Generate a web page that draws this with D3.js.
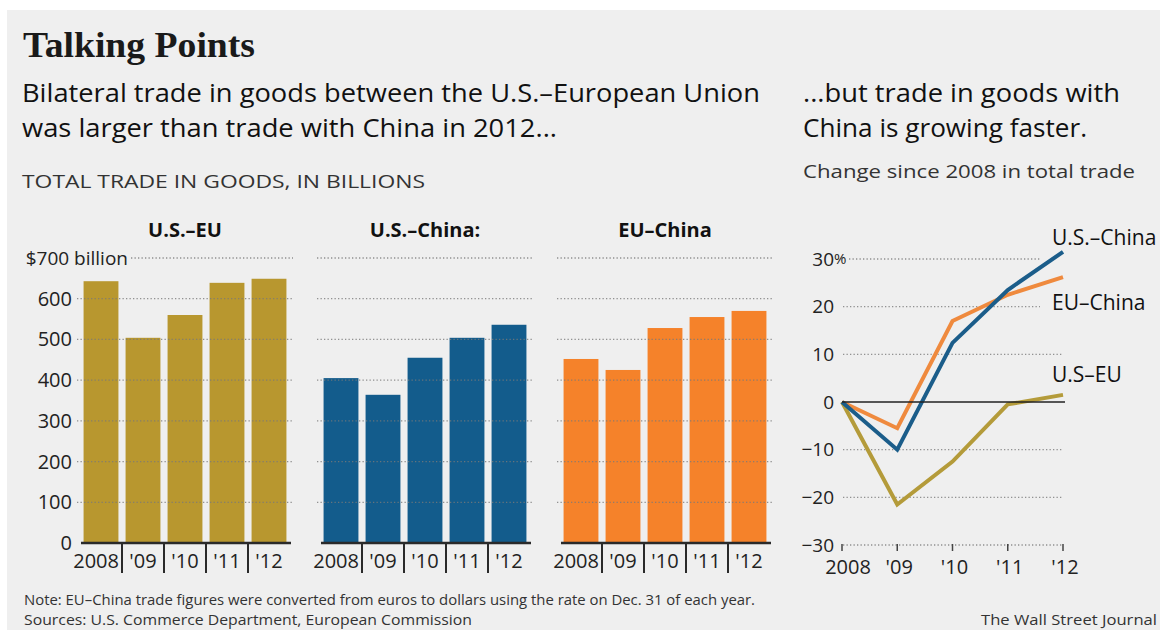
<!DOCTYPE html>
<html><head><meta charset="utf-8">
<script src="https://cdn.jsdelivr.net/npm/d3@7"></script>
<style>body{margin:0;background:#fff;} svg{display:block;}</style>
</head><body><svg id="c" width="1163" height="630"></svg>
<script>
// ---------- data ----------
const years = ["2008", "'09", "'10", "'11", "'12"];
const usEU = [643, 504, 560, 639, 649];
const usChina = [405, 364, 455, 504, 536];
const euChina = [452, 425, 528, 555, 570];
const barTicks = [0, 100, 200, 300, 400, 500, 600, 700];
const panelTitles = ["U.S.–EU", "U.S.–China:", "EU–China"];

const chgUSChina = [0, -10, 12.4, 23.5, 31.5];
const chgEUChina = [0, -5.5, 17, 22.5, 26.2];
const chgUSEU = [0, -21.5, -12.5, -0.5, 1.5];
const chgTicks = [-30, -20, -10, 0, 10, 20, 30];
const lineLabels = ["U.S.–China", "EU–China", "U.S–EU"];

// ---------- setup ----------
const svg = d3.select("#c");
const sans = "'Open Sans', 'Noto Sans', sans-serif";
const W = 1160;
svg.append("defs").append("clipPath").attr("id", "clipAll")
  .append("rect").attr("x", 0).attr("y", 0).attr("width", W).attr("height", 630);
const root = svg.append("g").attr("clip-path", "url(#clipAll)");
root.append("rect").attr("x", 7).attr("y", 10).attr("width", W - 7).attr("height", 620).attr("fill", "#efefef");

function text(x, y, s, o = {}) {
  const t = root.append("text").attr("x", x).attr("y", y).text(s)
    .attr("font-family", o.family || sans)
    .attr("font-size", o.size || 18)
    .attr("font-weight", o.weight || 400)
    .attr("fill", o.fill || "#222")
    .attr("text-anchor", o.anchor || "start");
  if (o.len) t.attr("textLength", o.len).attr("lengthAdjust", "spacingAndGlyphs");
  return t;
}

// ---------- header ----------
text(23, 57, "Talking Points", {family: "'Liberation Serif', 'DejaVu Serif', serif", size: 35, weight: 700, fill: "#1a1a1a", len: 232});
text(22, 102, "Bilateral trade in goods between the U.S.–European Union", {size: 26, weight: 500, fill: "#111", len: 738});
text(22, 137, "was larger than trade with China in 2012...", {size: 26, weight: 500, fill: "#111", len: 535});
text(22, 188, "TOTAL TRADE IN GOODS, IN BILLIONS", {size: 19, fill: "#333", len: 403});
text(803, 102, "...but trade in goods with", {size: 26, weight: 500, fill: "#111", len: 317});
text(803, 137, "China is growing faster.", {size: 26, weight: 500, fill: "#111", len: 284});
text(803, 178, "Change since 2008 in total trade", {size: 19, fill: "#333", len: 332});

// ---------- bar panels ----------
const y = d3.scaleLinear().domain([0, 700]).range([543, 258]);
const series = [usEU, usChina, euChina];
const colors = ["#b8972f", "#135c8c", "#f5822a"];

series.forEach((vals, i) => {
  const x0 = 80 + i * 240;
  const x = d3.scaleBand().domain(years).range([x0, x0 + 210]).paddingInner(0.17).paddingOuter(0.085);
  const g = root.append("g");
  g.selectAll("rect.bar").data(vals).join("rect")
    .attr("x", (d, j) => x(years[j]))
    .attr("y", d => y(d))
    .attr("width", x.bandwidth())
    .attr("height", d => y(0) - y(d))
    .attr("fill", colors[i]);
  // gridlines over bars
  g.selectAll("line.grid").data(barTicks.filter(t => t > 0)).join("line")
    .attr("x1", t => (i === 0 && t === 700) ? 131 : x0 - 3)
    .attr("x2", x0 + 213)
    .attr("y1", t => y(t)).attr("y2", t => y(t))
    .attr("stroke", "#7a7a7a").attr("stroke-width", 1.3)
    .attr("stroke-dasharray", "1.3,2.2").attr("opacity", 0.8);
  // baseline
  g.append("line").attr("x1", x0 + 1).attr("x2", x0 + 211)
    .attr("y1", y(0)).attr("y2", y(0)).attr("stroke", "#2a2a2a").attr("stroke-width", 2.5);
  // separators
  const gap = x.step() - x.bandwidth();
  g.selectAll("line.sep").data(years.slice(0, 4)).join("line")
    .attr("x1", d => x(d) + x.bandwidth() + gap / 2)
    .attr("x2", d => x(d) + x.bandwidth() + gap / 2)
    .attr("y1", y(0)).attr("y2", y(0) + 30)
    .attr("stroke", "#2a2a2a").attr("stroke-width", 2);
  // year labels
  g.selectAll("text.yr").data(years).join("text")
    .attr("x", (d, j) => j === 0 ? x(d) + x.bandwidth() + gap / 2 - 3 : x(d) + x.bandwidth() / 2)
    .attr("y", 568)
    .attr("text-anchor", (d, j) => j === 0 ? "end" : "middle")
    .attr("font-family", sans).attr("font-size", 20).attr("fill", "#222")
    .text(d => d);
  // title
  text(x0 + 105, 237, panelTitles[i], {size: 20, weight: 700, anchor: "middle", fill: "#111"});
});

// bar y labels
barTicks.forEach(t => {
  if (t === 700) {
    text(128, y(t), "$700 billion", {size: 19, anchor: "end", fill: "#222"}).attr("dy", "0.35em");
  } else {
    text(72, y(t), String(t), {size: 20, anchor: "end", fill: "#222"}).attr("dy", "0.35em");
  }
});

// ---------- line chart ----------
const ly = d3.scaleLinear().domain([-30, 30]).range([545, 259]);
const lx = d3.scalePoint().domain(years).range([842, 1063]);
const lg = root.append("g");
lg.selectAll("line.grid").data(chgTicks.filter(t => t !== 0)).join("line")
  .attr("x1", t => t === 30 ? 849 : 843)
  .attr("x2", t => t >= 20 ? 1040 : 1062)
  .attr("y1", t => ly(t)).attr("y2", t => ly(t))
  .attr("stroke", "#7a7a7a").attr("stroke-width", 1.3)
  .attr("stroke-dasharray", "1.3,2.2").attr("opacity", 0.8);
// x ticks
lg.selectAll("line.tk").data(years).join("line")
  .attr("x1", d => lx(d)).attr("x2", d => lx(d))
  .attr("y1", ly(-30) - 1).attr("y2", ly(-30) + 6)
  .attr("stroke", "#444").attr("stroke-width", 1.5);
lg.selectAll("text.yr").data(years).join("text")
  .attr("x", (d, j) => lx(d) + (j === 0 ? 6 : 2))
  .attr("y", 574).attr("text-anchor", "middle")
  .attr("font-family", sans).attr("font-size", 20).attr("fill", "#222")
  .text(d => d);
// y labels
chgTicks.forEach(t => {
  text(834, ly(t), t < 0 ? "−" + Math.abs(t) : String(t), {size: 19, anchor: "end", fill: "#222"}).attr("dy", "0.35em");
});
text(834, ly(30), "%", {size: 15, fill: "#222"}).attr("dy", "0.35em");

const line = d3.line().x((d, j) => lx(years[j])).y(d => ly(d));
const lineSeries = [chgUSEU, chgEUChina, chgUSChina];
const lineColors = ["#b49b3a", "#ef8a3e", "#1b5d8a"];
lineSeries.forEach((s, i) => {
  lg.append("path").datum(s).attr("d", line)
    .attr("fill", "none").attr("stroke", lineColors[i])
    .attr("stroke-width", 4).attr("stroke-linejoin", "miter");
});
// zero line
lg.append("line").attr("x1", 842).attr("x2", 1065)
  .attr("y1", ly(0)).attr("y2", ly(0)).attr("stroke", "#222").attr("stroke-width", 1.5);

// line labels
const labelY = [245, 310, 382];
lineLabels.forEach((l, i) => text(1052, labelY[i], l, {size: 21, weight: 500, fill: "#111"}));

// ---------- footer ----------
text(24, 605, "Note: EU–China trade figures were converted from euros to dollars using the rate on Dec. 31 of each year.", {size: 15, fill: "#333", len: 731});
text(24, 625, "Sources: U.S. Commerce Department, European Commission", {size: 15, fill: "#333", len: 448});
text(1157, 625, "The Wall Street Journal", {size: 15, fill: "#333", anchor: "end", len: 176});
</script></body></html>
